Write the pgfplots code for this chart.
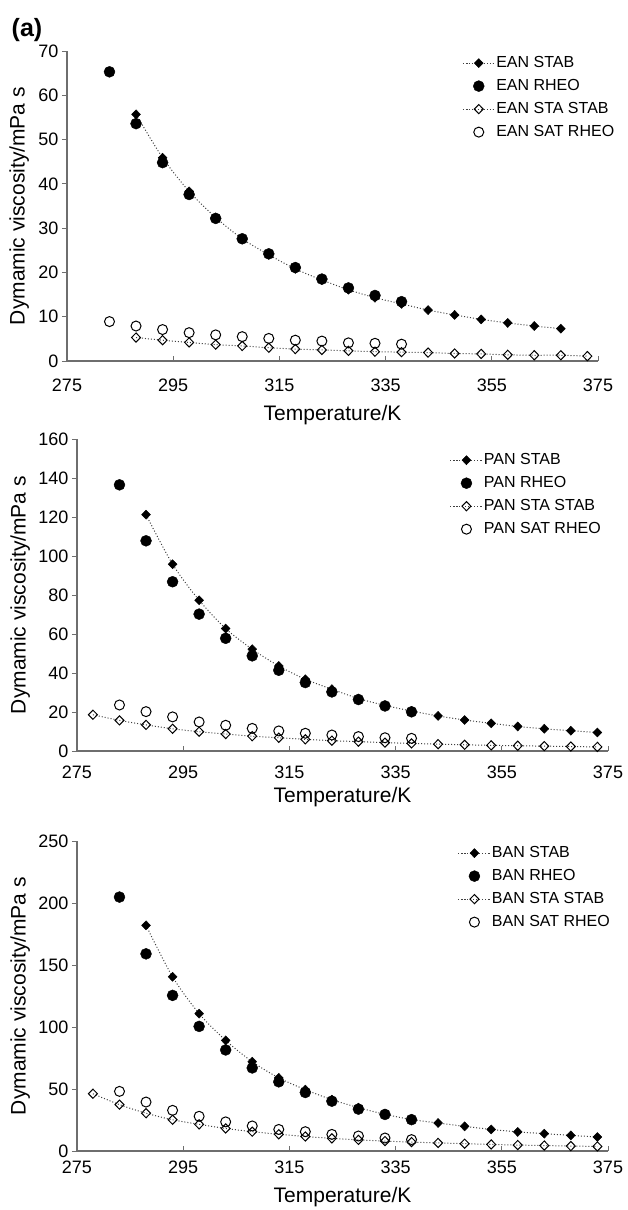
\documentclass[border=0pt]{standalone}
\usepackage{fontspec}
\setmainfont{Liberation Sans}
\usepackage{pgfplots}
\pgfplotsset{compat=1.18}

\definecolor{axgray}{HTML}{6E6E6E}
\definecolor{lngray}{HTML}{404040}
\newcommand\labfont{\fontsize{21}{24}\selectfont}

% common look of the three viscosity panels
\pgfplotsset{
  visc/.style={
    scale only axis, width=531pt, height=310pt,
    xmin=275, xmax=375, ymin=0,
    xtick={275,295,...,375},
    axis lines*=left,
    axis line style={axgray, line width=1.2pt},
    tick style={axgray, line width=1pt},
    major tick length=5pt,
    xtick align=inside, ytick align=outside,
    /pgf/number format/assume math mode=true,
    ticklabel style={font=\fontsize{18}{20}\selectfont},
    xlabel={Temperature/K},
    ylabel={Dymamic viscosity/mPa s},
    legend style={draw=none, fill=none, inner sep=0pt, anchor=north west,
      font=\fontsize{16}{18}\selectfont, row sep=6pt,
      nodes={inner sep=1pt, text height=12pt, text depth=3pt}},
    legend cell align=left,
    legend image code/.code={\draw[mark repeat=2,mark phase=2,##1]
      plot coordinates {(0pt,0pt) (16pt,0pt) (32pt,0pt)};},
  },
  stab/.style={lngray, dotted, line width=1pt, smooth,
    mark=diamond*, mark size=4.5pt,
    mark options={solid, black, fill=black, line width=0.5pt, xscale=1.3}},
  rheo/.style={only marks, mark=*, mark size=5.5pt,
    mark options={black, fill=black}},
  sta/.style={lngray, dotted, line width=1pt, smooth,
    mark=diamond, mark size=4.6pt,
    mark options={solid, black, line width=1pt, xscale=1.3}},
  sat/.style={only marks, mark=o, mark size=5pt,
    mark options={black, line width=1pt}},
}

\begin{document}
\begin{tikzpicture}
\path[use as bounding box] (0,0) rectangle (628pt,-1210pt);

\node[font=\bfseries\fontsize{25}{28}\selectfont] at (27pt,-30pt) {(a)};

% ---- EAN ----
\begin{axis}[visc, at={(67pt,-361pt)}, anchor=south west,
  ymax=70, ytick={0,10,...,70},
  every axis x label/.style={at={(axis description cs:0.5,-0.174)}, anchor=center, font=\labfont},
  every axis y label/.style={at={(axis description cs:-0.090,0.5)}, anchor=center, rotate=90, font=\labfont},
  xticklabel style={anchor=center, yshift=-24pt},
  legend style={at={(axis description cs:0.744,0.989)}}]
\addplot[stab] coordinates {(288,55.7) (293,45.9) (298,38.3) (303,32.4) (308,27.6)
  (313,24.0) (318,20.8) (323,18.3) (328,16.1) (333,14.3) (338,12.9) (343,11.5)
  (348,10.4) (353,9.4) (358,8.6) (363,7.9) (368,7.3)};
\addplot[rheo] coordinates {(283,65.3) (288,53.6) (293,44.8) (298,37.6) (303,32.2)
  (308,27.6) (313,24.2) (318,21.1) (323,18.5) (328,16.5) (333,14.8) (338,13.4)};
\addplot[sta] coordinates {(288,5.3) (293,4.7) (298,4.2) (303,3.7) (308,3.4)
  (313,3.0) (318,2.7) (323,2.5) (328,2.3) (333,2.1) (338,2.0) (343,1.9)
  (348,1.7) (353,1.6) (358,1.4) (363,1.3) (368,1.3) (373,1.1)};
\addplot[sat] coordinates {(283,8.9) (288,7.9) (293,7.1) (298,6.4) (303,5.9)
  (308,5.5) (313,5.1) (318,4.7) (323,4.5) (328,4.1) (333,4.0) (338,3.8)};
\legend{EAN STAB, EAN RHEO, EAN STA STAB, EAN SAT RHEO}
\end{axis}

% ---- PAN ----
\begin{axis}[visc, at={(77pt,-751pt)}, anchor=south west, height=312pt,
  ymax=160, ytick={0,20,...,160},
  every axis x label/.style={at={(axis description cs:0.5,-0.147)}, anchor=center, font=\labfont},
  every axis y label/.style={at={(axis description cs:-0.107,0.5)}, anchor=center, rotate=90, font=\labfont},
  xticklabel style={anchor=center, yshift=-21pt},
  legend style={at={(axis description cs:0.702,0.960)}}]
\addplot[stab] coordinates {(288,121.2) (293,95.8) (298,77.3) (303,62.8) (308,52.2)
  (313,43.6) (318,36.8) (323,31.7) (328,26.9) (333,23.4) (338,20.5) (343,18.0)
  (348,15.9) (353,14.2) (358,12.6) (363,11.4) (368,10.4) (373,9.5)};
\addplot[rheo] coordinates {(283,136.5) (288,107.8) (293,86.8) (298,70.2) (303,57.8)
  (308,48.8) (313,41.4) (318,35.1) (323,30.3) (328,26.4) (333,23.1) (338,20.1)};
\addplot[sta] coordinates {(278,18.6) (283,15.7) (288,13.4) (293,11.4) (298,9.9)
  (303,8.7) (308,7.6) (313,6.8) (318,6.0) (323,5.3) (328,4.8) (333,4.3)
  (338,3.9) (343,3.5) (348,3.2) (353,2.9) (358,2.7) (363,2.5) (368,2.3) (373,2.1)};
\addplot[sat] coordinates {(283,23.6) (288,20.2) (293,17.5) (298,14.9) (303,13.2)
  (308,11.6) (313,10.3) (318,9.1) (323,8.2) (328,7.4) (333,6.8) (338,6.5)};
\legend{PAN STAB, PAN RHEO, PAN STA STAB, PAN SAT RHEO}
\end{axis}

% ---- BAN ----
\begin{axis}[visc, at={(77pt,-1151pt)}, anchor=south west,
  ymax=250, ytick={0,50,...,250},
  every axis x label/.style={at={(axis description cs:0.5,-0.148)}, anchor=center, font=\labfont},
  every axis y label/.style={at={(axis description cs:-0.107,0.5)}, anchor=center, rotate=90, font=\labfont},
  xticklabel style={anchor=center, yshift=-16pt},
  legend style={at={(axis description cs:0.717,0.989)}}]
\addplot[stab] coordinates {(288,182) (293,140.5) (298,110.8) (303,89.2) (308,72)
  (313,59) (318,49.5) (323,41.4) (328,35) (333,29.6) (338,25.4) (343,22.6)
  (348,19.9) (353,17.4) (358,15.4) (363,14.0) (368,12.6) (373,11.3)};
\addplot[rheo] coordinates {(283,204.8) (288,159) (293,125.5) (298,100.5) (303,81.5)
  (308,67) (313,55.8) (318,47.2) (323,40.2) (328,33.8) (333,29.5) (338,25.3)};
\addplot[sta] coordinates {(278,46.2) (283,37.4) (288,30.5) (293,25.2) (298,21.5)
  (303,18.2) (308,15.6) (313,13.5) (318,11.7) (323,10.2) (328,9.0) (333,8.0)
  (338,7.2) (343,6.5) (348,5.9) (353,5.3) (358,4.8) (363,4.4) (368,4.0) (373,3.7)};
\addplot[sat] coordinates {(283,48.1) (288,39.5) (293,32.8) (298,28) (303,23.5)
  (308,20.2) (313,17.4) (318,15.6) (323,13.4) (328,12.1) (333,10.5) (338,9.2)};
\legend{BAN STAB, BAN RHEO, BAN STA STAB, BAN SAT RHEO}
\end{axis}
\end{tikzpicture}
\end{document}
